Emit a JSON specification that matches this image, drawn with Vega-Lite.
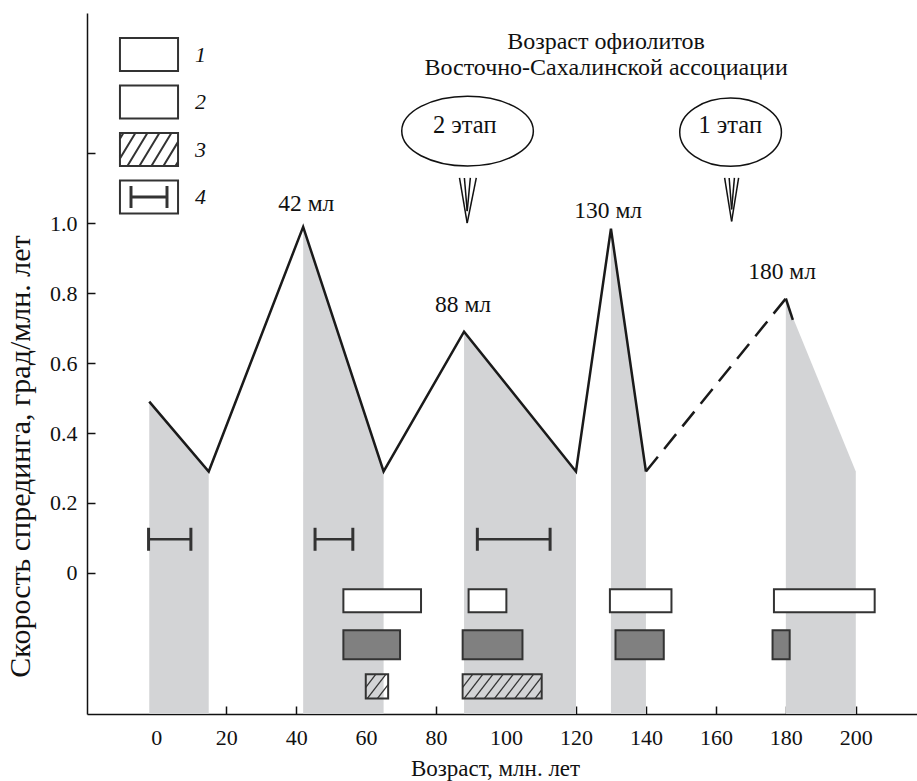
{
  "$schema": "https://vega.github.io/schema/vega-lite/v6.json",
  "width": 830,
  "height": 701,
  "autosize": {"type": "none"},
  "padding": {"left": 87, "top": 13, "right": 0, "bottom": 67},
  "background": "white",
  "config": {
    "view": {"stroke": null},
    "font": "Liberation Serif",
    "axis": {
      "grid": false,
      "domainColor": "#111", "domainWidth": 1.5,
      "tickColor": "#111", "tickWidth": 1.5, "tickSize": -8,
      "labelFont": "Liberation Serif", "labelFontSize": 22, "labelColor": "#111",
      "titleFont": "Liberation Serif", "titleFontWeight": "normal", "titleColor": "#111"
    },
    "axisX": {"labelPadding": 21, "titleFontSize": 23},
    "axisY": {"labelPadding": 18, "titleFontSize": 30}
  },
  "datasets": {
    "rate": [
      {"age": -2, "rate": 0.49, "seg": "a"},
      {"age": 15, "rate": 0.29, "seg": "a"},
      {"age": 42, "rate": 0.99, "seg": "a"},
      {"age": 65, "rate": 0.29, "seg": "a"},
      {"age": 88, "rate": 0.69, "seg": "a"},
      {"age": 120, "rate": 0.29, "seg": "a"},
      {"age": 130, "rate": 0.985, "seg": "a"},
      {"age": 140, "rate": 0.29, "seg": "a"},
      {"age": 180, "rate": 0.785, "seg": "c"},
      {"age": 182, "rate": 0.724, "seg": "c"}
    ],
    "dashed": [
      {"age": 140, "rate": 0.29},
      {"age": 180, "rate": 0.785}
    ],
    "bands": [
      {"band": 1, "age": -2, "top": 0.49},
      {"band": 1, "age": 15, "top": 0.29},
      {"band": 2, "age": 42, "top": 0.99},
      {"band": 2, "age": 65, "top": 0.29},
      {"band": 3, "age": 88, "top": 0.69},
      {"band": 3, "age": 120, "top": 0.29},
      {"band": 4, "age": 130, "top": 0.985},
      {"band": 4, "age": 140, "top": 0.29},
      {"band": 5, "age": 180, "top": 0.78},
      {"band": 5, "age": 200, "top": 0.29}
    ],
    "boxes": [
      {"type": "1", "x0": 53.5, "x1": 75.7, "y0": -0.113, "y1": -0.047},
      {"type": "1", "x0": 89.3, "x1": 100.1, "y0": -0.113, "y1": -0.047},
      {"type": "1", "x0": 129.7, "x1": 147.3, "y0": -0.113, "y1": -0.047},
      {"type": "1", "x0": 176.6, "x1": 205.4, "y0": -0.113, "y1": -0.047},
      {"type": "2", "x0": 53.5, "x1": 69.7, "y0": -0.247, "y1": -0.164},
      {"type": "2", "x0": 87.6, "x1": 104.7, "y0": -0.247, "y1": -0.164},
      {"type": "2", "x0": 131.3, "x1": 145.1, "y0": -0.247, "y1": -0.164},
      {"type": "2", "x0": 176.2, "x1": 181.1, "y0": -0.247, "y1": -0.164},
      {"type": "3", "x0": 59.9, "x1": 66.3, "y0": -0.36, "y1": -0.29},
      {"type": "3", "x0": 87.6, "x1": 110.2, "y0": -0.36, "y1": -0.29}
    ],
    "hatch": [
      {"x": 87.6, "y": -0.328, "x2": 90.5, "y2": -0.29},
      {"x": 88.0, "y": -0.36, "x2": 93.4, "y2": -0.29},
      {"x": 90.9, "y": -0.36, "x2": 96.3, "y2": -0.29},
      {"x": 93.8, "y": -0.36, "x2": 99.2, "y2": -0.29},
      {"x": 96.7, "y": -0.36, "x2": 102.1, "y2": -0.29},
      {"x": 99.6, "y": -0.36, "x2": 105.0, "y2": -0.29},
      {"x": 102.5, "y": -0.36, "x2": 107.9, "y2": -0.29},
      {"x": 105.4, "y": -0.36, "x2": 110.2, "y2": -0.298},
      {"x": 108.3, "y": -0.36, "x2": 110.2, "y2": -0.335},
      {"x": 59.9, "y": -0.328, "x2": 62.8, "y2": -0.29},
      {"x": 60.3, "y": -0.36, "x2": 65.7, "y2": -0.29},
      {"x": 63.2, "y": -0.36, "x2": 66.3, "y2": -0.32}
    ],
    "errbars": [
      {"lo": -2.2, "hi": 9.9, "y": 0.096},
      {"lo": 45.4, "hi": 56.2, "y": 0.096},
      {"lo": 91.8, "hi": 112.6, "y": 0.096}
    ],
    "notes": [
      {"kind": "peak", "label": "42 мл", "x": 42.9, "y": 1.034},
      {"kind": "peak", "label": "88 мл", "x": 87.7, "y": 0.746},
      {"kind": "peak", "label": "130 мл", "x": 129.2, "y": 1.015},
      {"kind": "peak", "label": "180 мл", "x": 178.9, "y": 0.841},
      {"kind": "title", "label": "Возраст офиолитов", "x": 128.6, "y": 1.499},
      {"kind": "title", "label": "Восточно-Сахалинской ассоциации", "x": 128.6, "y": 1.424},
      {"kind": "stage", "label": "2 этап", "x": 88.2, "y": 1.258},
      {"kind": "stage", "label": "1 этап", "x": 164.1, "y": 1.258}
    ],
    "stages": [
      {"stage": "2", "x": 89.0, "y": 1.264},
      {"stage": "1", "x": 164.2, "y": 1.261}
    ],
    "arrows": [
      {"x": 86.7, "y": 1.130, "x2": 88.9, "y2": 1.001},
      {"x": 91.5, "y": 1.130, "x2": 88.9, "y2": 1.001},
      {"x": 88.1, "y": 1.130, "x2": 88.9, "y2": 1.035},
      {"x": 89.8, "y": 1.130, "x2": 88.9, "y2": 1.035},
      {"x": 162.5, "y": 1.130, "x2": 164.5, "y2": 1.006},
      {"x": 166.5, "y": 1.130, "x2": 164.5, "y2": 1.006},
      {"x": 163.8, "y": 1.130, "x2": 164.5, "y2": 1.04},
      {"x": 165.3, "y": 1.130, "x2": 164.5, "y2": 1.04}
    ]
  },
  "layer": [
    {
      "data": {"name": "bands"},
      "mark": {"type": "area", "color": "#d3d4d6", "opacity": 1},
      "encoding": {
        "x": {
          "field": "age", "type": "quantitative",
          "scale": {"domain": [-19.8, 217.5], "nice": false, "zero": false},
          "axis": {
            "values": [0, 20, 40, 60, 80, 100, 120, 140, 160, 180, 200],
            "title": "Возраст, млн. лет",
            "titleX": 408, "titleY": 61, "titleBaseline": "alphabetic", "titleAlign": "center"
          }
        },
        "y": {
          "field": "top", "type": "quantitative",
          "scale": {"domain": [-0.404, 1.602], "nice": false, "zero": false},
          "axis": {
            "values": [0, 0.2, 0.4, 0.6, 0.8, 1.0, 1.2],
            "labelExpr": "datum.value > 1.1 ? '' : (datum.value == 0 ? '0' : format(datum.value, '.1f'))",
            "title": "Скорость спрединга, град/млн. лет",
            "titleX": -67, "titleY": 443, "titleAngle": -90, "titleBaseline": "middle", "titleAlign": "center"
          }
        },
        "y2": {"datum": -0.404},
        "detail": {"field": "band", "type": "nominal"}
      }
    },
    {
      "data": {"name": "rate"},
      "mark": {"type": "line", "color": "#1a1a1a", "strokeWidth": 2.5},
      "encoding": {
        "x": {"field": "age", "type": "quantitative"},
        "y": {"field": "rate", "type": "quantitative"},
        "detail": {"field": "seg", "type": "nominal"}
      }
    },
    {
      "data": {"name": "dashed"},
      "mark": {"type": "line", "color": "#1a1a1a", "strokeWidth": 2.5, "strokeDash": [19, 10]},
      "encoding": {
        "x": {"field": "age", "type": "quantitative"},
        "y": {"field": "rate", "type": "quantitative"}
      }
    },
    {
      "data": {"name": "errbars"},
      "mark": {"type": "rule", "color": "#333", "strokeWidth": 2.5},
      "encoding": {
        "x": {"field": "lo", "type": "quantitative"},
        "x2": {"field": "hi"},
        "y": {"field": "y", "type": "quantitative"}
      }
    },
    {
      "data": {"name": "errbars"},
      "transform": [{"fold": ["lo", "hi"], "as": ["end", "pos"]}],
      "mark": {"type": "tick", "orient": "vertical", "color": "#333", "size": 23, "thickness": 3, "opacity": 1},
      "encoding": {
        "x": {"field": "pos", "type": "quantitative"},
        "y": {"field": "y", "type": "quantitative"}
      }
    },
    {
      "data": {"name": "boxes"},
      "transform": [{"filter": "datum.type == '1'"}],
      "mark": {"type": "rect", "fill": "white", "stroke": "#333", "strokeWidth": 2},
      "encoding": {
        "x": {"field": "x0", "type": "quantitative"},
        "x2": {"field": "x1"},
        "y": {"field": "y0", "type": "quantitative"},
        "y2": {"field": "y1"}
      }
    },
    {
      "data": {"name": "boxes"},
      "transform": [{"filter": "datum.type == '2'"}],
      "mark": {"type": "rect", "fill": "#808080", "stroke": "#333", "strokeWidth": 2},
      "encoding": {
        "x": {"field": "x0", "type": "quantitative"},
        "x2": {"field": "x1"},
        "y": {"field": "y0", "type": "quantitative"},
        "y2": {"field": "y1"}
      }
    },
    {
      "data": {"name": "hatch"},
      "mark": {"type": "rule", "color": "#333", "strokeWidth": 1.3},
      "encoding": {
        "x": {"field": "x", "type": "quantitative"},
        "x2": {"field": "x2"},
        "y": {"field": "y", "type": "quantitative"},
        "y2": {"field": "y2"}
      }
    },
    {
      "data": {"name": "boxes"},
      "transform": [{"filter": "datum.type == '3'"}],
      "mark": {"type": "rect", "fill": null, "fillOpacity": 0, "stroke": "#333", "strokeWidth": 2},
      "encoding": {
        "x": {"field": "x0", "type": "quantitative"},
        "x2": {"field": "x1"},
        "y": {"field": "y0", "type": "quantitative"},
        "y2": {"field": "y1"}
      }
    },
    {
      "data": {"name": "boxes"},
      "mark": {"type": "point", "filled": true, "opacity": 0, "stroke": "#333", "strokeWidth": 2},
      "encoding": {
        "x": {"field": "x0", "type": "quantitative"},
        "y": {"field": "y0", "type": "quantitative"},
        "fill": {
          "field": "type", "type": "nominal",
          "scale": {"domain": ["1", "2", "3", "4"], "range": ["white", "#808080", "white", "white"]},
          "legend": {
            "orient": "none", "legendX": 37, "legendY": 16.5, "title": null, "padding": 0,
            "symbolSize": 2304, "symbolStrokeWidth": 2, "symbolStrokeColor": "#333", "symbolOpacity": 1,
            "labelFont": "Liberation Serif", "labelFontStyle": "italic", "labelFontSize": 22, "labelColor": "#111",
            "labelOffset": 21, "rowPadding": 1.5
          }
        },
        "shape": {
          "field": "type", "type": "nominal",
          "scale": {
            "domain": ["1", "2", "3", "4"],
            "range": [
              "M-1.21,-0.69H1.21V0.69H-1.21Z",
              "M-1.21,-0.69H1.21V0.69H-1.21Z",
              "M-1.21,-0.69H1.21V0.69H-1.21ZM-1.21,-0.449L-1.067,-0.69M-1.21,0.376L-0.567,-0.69M-0.9,0.69L-0.067,-0.69M-0.4,0.69L0.433,-0.69M0.1,0.69L0.933,-0.69M0.6,0.69L1.21,-0.317M1.1,0.69L1.21,0.508",
              "M-1.21,-0.69H1.21V0.69H-1.21ZM-0.77,-0.46V0.46M-0.73,-0.46V0.46M0.73,-0.46V0.46M0.77,-0.46V0.46M-0.75,-0.02H0.75M-0.75,0.02H0.75"
            ]
          }
        }
      }
    },
    {
      "data": {"name": "notes"},
      "transform": [{"filter": "datum.kind == 'peak'"}],
      "mark": {"type": "text", "font": "Liberation Serif", "fontSize": 23.5, "color": "#111", "align": "center", "baseline": "alphabetic"},
      "encoding": {
        "x": {"field": "x", "type": "quantitative"},
        "y": {"field": "y", "type": "quantitative"},
        "text": {"field": "label", "type": "nominal"}
      }
    },
    {
      "data": {"name": "notes"},
      "transform": [{"filter": "datum.kind == 'title'"}],
      "mark": {"type": "text", "font": "Liberation Serif", "fontSize": 24, "color": "#111", "align": "center", "baseline": "alphabetic"},
      "encoding": {
        "x": {"field": "x", "type": "quantitative"},
        "y": {"field": "y", "type": "quantitative"},
        "text": {"field": "label", "type": "nominal"}
      }
    },
    {
      "data": {"name": "notes"},
      "transform": [{"filter": "datum.kind == 'stage'"}],
      "mark": {"type": "text", "font": "Liberation Serif", "fontSize": 24.5, "color": "#111", "align": "center", "baseline": "alphabetic"},
      "encoding": {
        "x": {"field": "x", "type": "quantitative"},
        "y": {"field": "y", "type": "quantitative"},
        "text": {"field": "label", "type": "nominal"}
      }
    },
    {
      "data": {"name": "stages"},
      "transform": [{"filter": "datum.stage == '2'"}],
      "mark": {"type": "point", "filled": false, "opacity": 1, "stroke": "#111", "strokeWidth": 1.5, "size": 17318,
               "shape": "M-1,0A1,0.53,0,1,0,1,0A1,0.53,0,1,0,-1,0Z"},
      "encoding": {
        "x": {"field": "x", "type": "quantitative"},
        "y": {"field": "y", "type": "quantitative"}
      }
    },
    {
      "data": {"name": "stages"},
      "transform": [{"filter": "datum.stage == '1'"}],
      "mark": {"type": "point", "filled": false, "opacity": 1, "stroke": "#111", "strokeWidth": 1.5, "size": 10343,
               "shape": "M-1,0A1,0.67,0,1,0,1,0A1,0.67,0,1,0,-1,0Z"},
      "encoding": {
        "x": {"field": "x", "type": "quantitative"},
        "y": {"field": "y", "type": "quantitative"}
      }
    },
    {
      "data": {"name": "arrows"},
      "mark": {"type": "rule", "color": "#111", "strokeWidth": 1.5},
      "encoding": {
        "x": {"field": "x", "type": "quantitative"},
        "x2": {"field": "x2"},
        "y": {"field": "y", "type": "quantitative"},
        "y2": {"field": "y2"}
      }
    }
  ]
}
